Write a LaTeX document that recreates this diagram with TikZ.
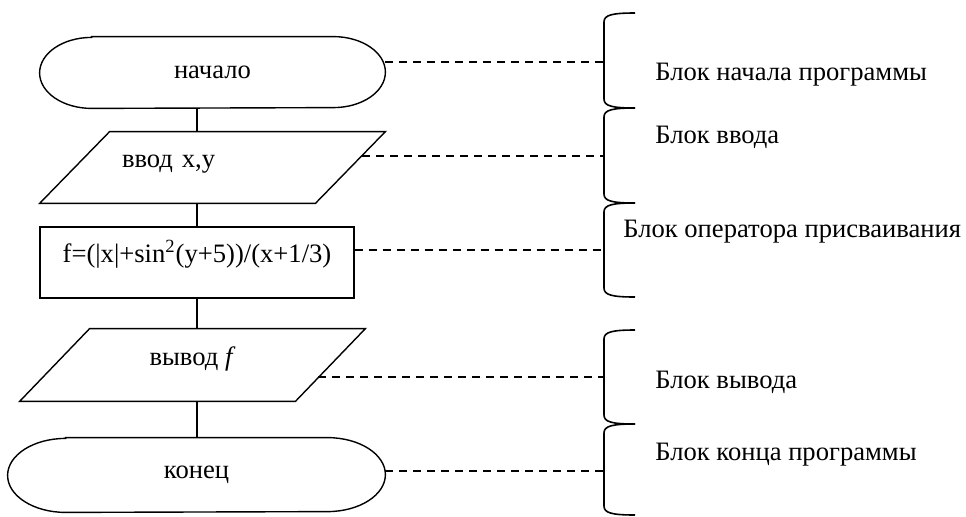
\documentclass[tikz,border=0pt]{standalone}
\usepackage{fontspec}
\setmainfont{Liberation Serif}
\usepackage{tikz}
\usetikzlibrary{calc}
\usepackage{xcolor}

% outline of a terminal block: straight top and bottom, half-ellipse ends
\newcommand{\termshape}[3]{%
  \draw[line] ([xshift=#2]#1.north west) -- ([xshift=-#2]#1.north east)
    arc[start angle=90,end angle=-90,x radius=#2,y radius=#3]
    -- ([xshift=#2]#1.south west)
    arc[start angle=270,end angle=90,x radius=#2,y radius=#3] -- cycle;}
% outline of an input/output block (parallelogram)
\newcommand{\ioshape}[1]{%
  \draw[line] ([xshift=17.5pt]#1.north west) -- ([xshift=17.5pt]#1.north east)
    -- ([xshift=-17.5pt]#1.south east) -- ([xshift=-17.5pt]#1.south west) -- cycle;}

\begin{document}
\begin{tikzpicture}[x=0.5pt,y=-0.5pt,font=\fontsize{13.3pt}{15pt}\selectfont,
  line/.style={line width=0.7pt},
  term/.style={inner sep=0pt},
  io/.style={inner sep=0pt,minimum width=137.5pt,text height=17.75pt,text depth=17.75pt},
  proc/.style={draw,line width=0.7pt,inner sep=0pt,minimum width=157pt,text height=17.75pt,text depth=17.75pt},
  leader/.style={line width=0.6pt,dash pattern=on 4pt off 3pt},
  brc/.style={line width=0.8pt},
  note/.style={anchor=base west,inner sep=0pt}]
\useasboundingbox (0,0) rectangle (966,516);

\node[term,minimum width=172.5pt,minimum height=35.5pt] (start) at (212.5,72.5) {начало};
\node[io,text width=90.5pt,align=left,inner xsep=23.5pt] (inp) at (212.5,167.5) {ввод x,y};
\node[proc] (assign) at (197,262.5) {f=(|x|+sin\textsuperscript{2}(y+5))/(x+1/3)};
\node[io,text height=18pt,text depth=18pt] (out) at (192.5,365) {вывод \textit{f}};
\node[term,minimum width=188.5pt,minimum height=37pt] (end) at (196.5,475) {конец};

\termshape{start}{26pt}{17.75pt}
\ioshape{inp}
\ioshape{out}
\termshape{end}{29pt}{18.5pt}

\draw[line] (start.south -| assign.north) -- (inp.north -| assign.north);
\draw[line] (inp.south -| assign.north) -- (assign.north);
\draw[line] (assign.south) -- (out.north -| assign.south);
\draw[line] (out.south -| assign.south) -- (end.north -| assign.south);

% braces on the right
\coordinate (b1) at (604,62);
\coordinate (b2) at (604,156);
\coordinate (b3) at (604,250);
\coordinate (b4) at (604,377);
\coordinate (b5) at (604,471);
\draw[brc] (635,13) .. controls (612,13) and (604,15) .. (604,22) -- (604,99) .. controls (604,106) and (612,108) .. (635,108);
\draw[brc] (635,108) .. controls (612,108) and (604,110) .. (604,117) -- (604,194) .. controls (604,201) and (612,203) .. (635,203);
\draw[brc] (635,203) .. controls (612,203) and (604,205) .. (604,212) -- (604,288) .. controls (604,295) and (612,297) .. (635,297);
\draw[brc] (635,330) .. controls (612,330) and (604,332) .. (604,339) -- (604,415) .. controls (604,422) and (612,424) .. (635,424);
\draw[brc] (635,424) .. controls (612,424) and (604,426) .. (604,433) -- (604,506) .. controls (604,513) and (612,515) .. (635,515);

\draw[leader] (start.east |- b1) -- (b1);
\draw[leader] ([xshift=6pt]inp.east |- b2) -- (b2);
\draw[leader] (assign.east |- b3) -- (b3);
\draw[leader] ([xshift=-6pt]out.east |- b4) -- (b4);
\draw[leader] (end.east |- b5) -- (b5);

\node[note] (n1) at (655,80) {Блок начала программы};
\node[note] (n2) at (655,143) {Блок ввода};
\node[note] (n3) at (623,237) {Блок оператора присваивания};
\node[note] (n4) at (655,388) {Блок вывода};
\node[note] (n5) at (655,460) {Блок конца программы};
\end{tikzpicture}
\end{document}
